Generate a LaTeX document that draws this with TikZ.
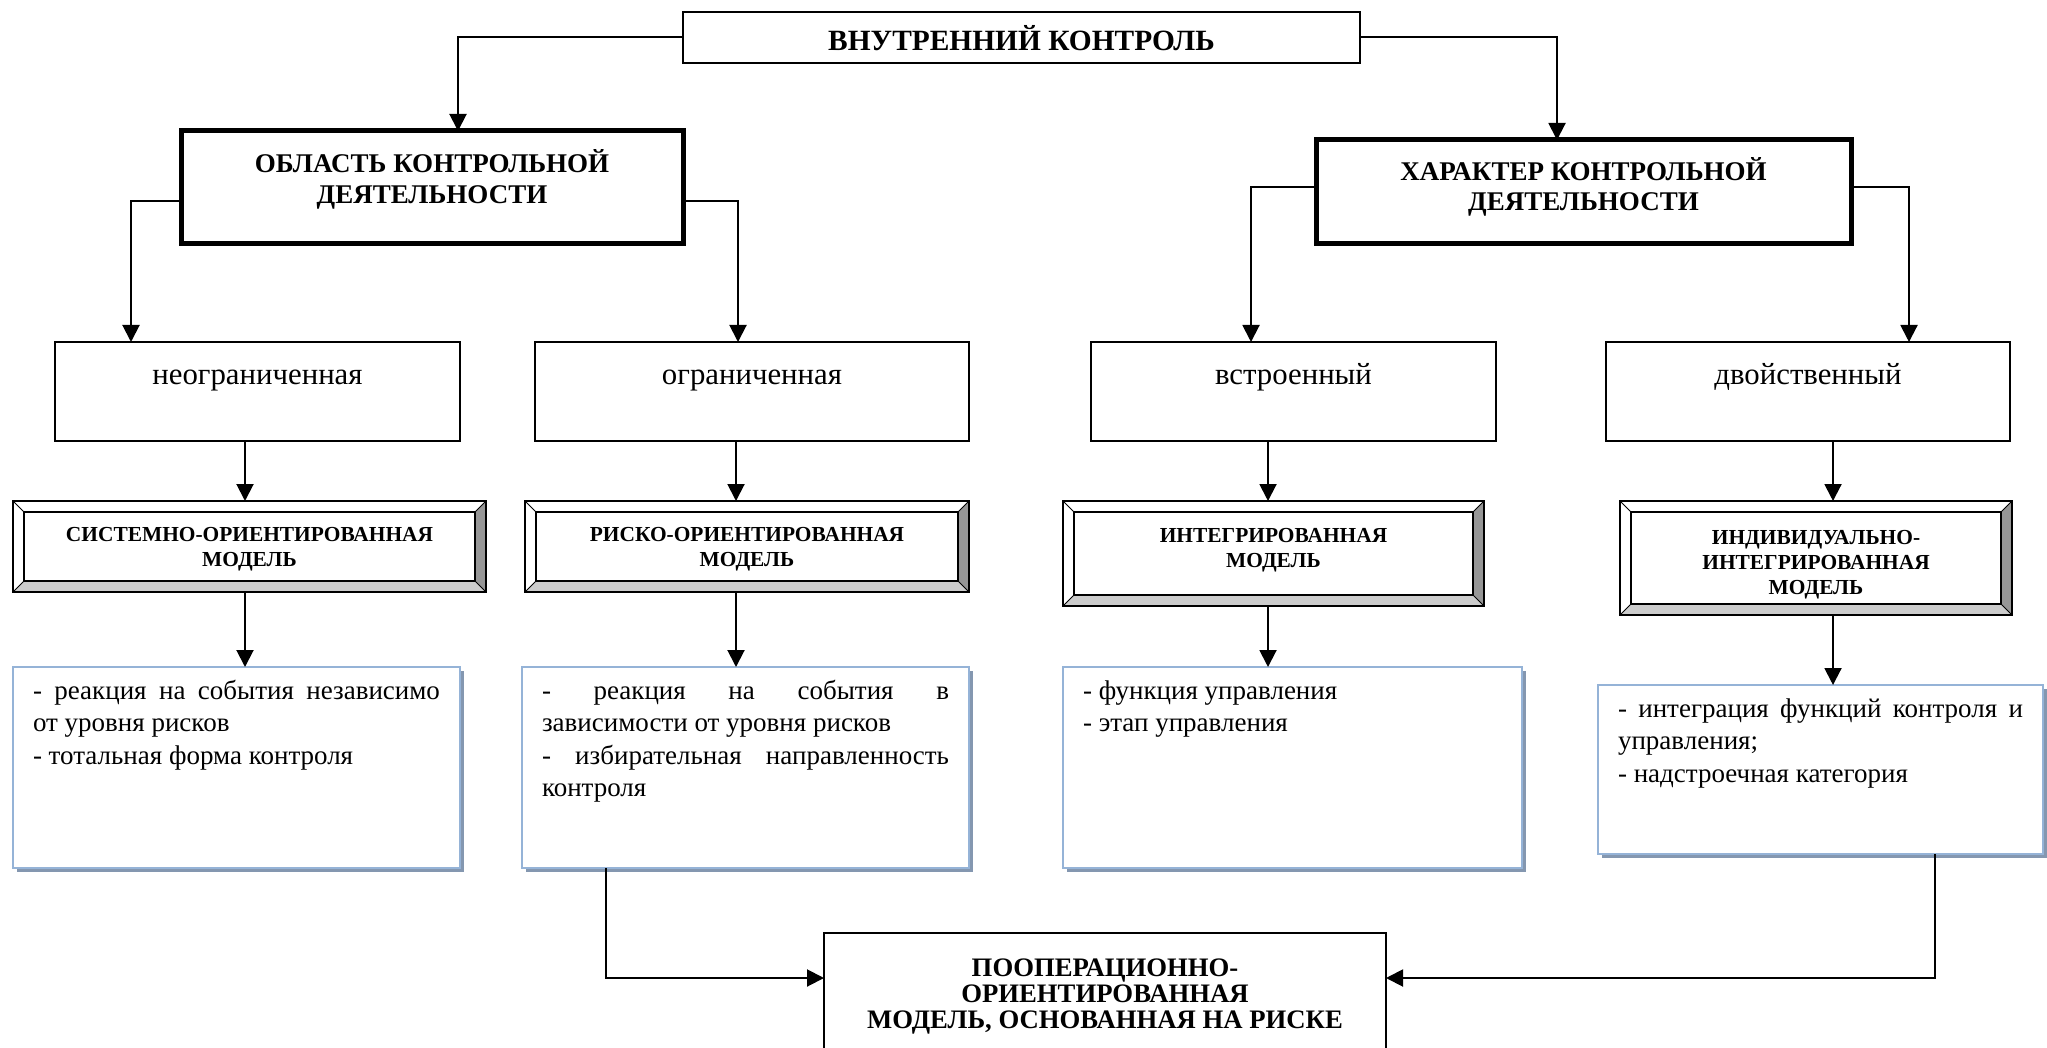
\documentclass[tikz,border=0pt]{standalone}
\usepackage{fontspec}
\setmainfont{Liberation Serif}
\usetikzlibrary{arrows.meta,calc,shadows}
\hyphenpenalty=10000
\exhyphenpenalty=10000
\tolerance=10000
\hbadness=10000

\definecolor{frameblue}{RGB}{149,179,215}
\definecolor{shadeblue}{RGB}{132,151,176}
\definecolor{beveldark}{RGB}{150,150,150}
\definecolor{bevellight}{RGB}{204,204,204}

% fixed-size text block: width, height, top gap, alignment, contents
\newcommand\inbox[5]{\parbox[c][#2pt][t]{#1pt}{\vspace*{#3pt}#4\strut#5}}

% bevelled frame around a named node
\def\bw{11}
\newcommand\bevelframe[1]{%
  \fill[beveldark] (#1.north east) -- (#1.south east) -- ($(#1.south east)+(-\bw,-\bw)$) -- ($(#1.north east)+(-\bw,\bw)$) -- cycle;
  \fill[bevellight] (#1.south west) -- (#1.south east) -- ($(#1.south east)+(-\bw,-\bw)$) -- ($(#1.south west)+(\bw,-\bw)$) -- cycle;
  \draw[line width=1.8pt] (#1.north west) rectangle (#1.south east);
  \draw[line width=1.8pt] ($(#1.north west)+(\bw,\bw)$) rectangle ($(#1.south east)+(-\bw,-\bw)$);
  \draw[line width=1pt] (#1.north west) -- ++(\bw,\bw) (#1.north east) -- ++(-\bw,\bw)
                        (#1.south west) -- ++(\bw,-\bw) (#1.south east) -- ++(-\bw,-\bw);
}

\begin{document}
\begin{tikzpicture}[x=1pt,y=-1pt,
  base/.style={inner sep=0pt, outer sep=0pt},
  thinbox/.style={base, draw, line width=1.6pt},
  thickbox/.style={base, draw, line width=5pt},
  bevelbox/.style={base, font=\bfseries\fontsize{21.4}{25}\selectfont},
  textbox/.style={base, inner xsep=20pt, draw=frameblue, line width=2pt, fill=white,
     general shadow={fill=shadeblue, shadow xshift=4pt, shadow yshift=-4pt},
     font=\fontsize{27}{32.6}\selectfont},
  rowfont/.style={font=\fontsize{30.8}{36}\selectfont},
  headfont/.style={font=\bfseries\fontsize{27}{30.5}\selectfont},
  conn/.style={line width=2pt, -{Triangle[length=17pt,width=17pt]}}]

\useasboundingbox (0,0) rectangle (2047,1048);
\clip (0,0) rectangle (2047,1048);
\fill[white] (0,0) rectangle (2047,1048);

% top level
\node[thinbox, font=\bfseries\fontsize{29.4}{32}\selectfont] (root) at (1021.5,37.5)
  {\inbox{677}{51}{13.9}{\centering}{ВНУТРЕННИЙ КОНТРОЛЬ}};

\node[thickbox, headfont] (area) at (432,187.5)
  {\inbox{502}{113}{19}{\centering}{ОБЛАСТЬ КОНТРОЛЬНОЙ\\ДЕЯТЕЛЬНОСТИ}};
\node[thickbox, headfont] (kind) at (1583.5,192)
  {\inbox{535}{104}{17.3}{\centering}{ХАРАКТЕР КОНТРОЛЬНОЙ\\ДЕЯТЕЛЬНОСТИ}};

% second row
\node[thinbox, rowfont] (unlim) at (257.5,391.5) {\inbox{405}{99}{16.8}{\centering}{неограниченная}};
\node[thinbox, rowfont] (lim)   at (752,391.5)   {\inbox{434}{99}{16.8}{\centering}{ограниченная}};
\node[thinbox, rowfont] (built) at (1293.5,391.5){\inbox{405}{99}{16.8}{\centering}{встроенный}};
\node[thinbox, rowfont] (dual)  at (1808,391.5)  {\inbox{404}{99}{16.8}{\centering}{двойственный}};

% models
\node[bevelbox] (sysm)  at (249.5,546.5) {\inbox{473}{91}{22.5}{\centering}{СИСТЕМНО-ОРИЕНТИРОВАННАЯ\\МОДЕЛЬ}};
\node[bevelbox] (riskm) at (747,546.5)   {\inbox{444}{91}{22.5}{\centering}{РИСКО-ОРИЕНТИРОВАННАЯ\\МОДЕЛЬ}};
\node[bevelbox] (intm)  at (1273.5,553.5){\inbox{421}{105}{23.5}{\centering}{ИНТЕГРИРОВАННАЯ\\МОДЕЛЬ}};
\node[bevelbox] (indm)  at (1816,558)    {\inbox{392}{114}{25.5}{\centering}{ИНДИВИДУАЛЬНО-\\ИНТЕГРИРОВАННАЯ\\МОДЕЛЬ}};
\bevelframe{sysm}
\bevelframe{riskm}
\bevelframe{intm}
\bevelframe{indm}

% descriptions
\node[textbox] (d1) at (236.5,767.5) {\inbox{407}{201}{9.2}{}{- реакция на события независимо\linebreak от уровня рисков\\- тотальная форма контроля}};
\node[textbox] (d2) at (745.5,767.5) {\inbox{407}{201}{9.2}{}{- реакция на события в\linebreak зависимости от уровня рисков\\- избирательная направленность\linebreak контроля}};
\node[textbox] (d3) at (1292.5,767.5){\inbox{419}{201}{9.2}{}{- функция управления\\- этап управления}};
\node[textbox] (d4) at (1820.5,769.5){\inbox{405}{169}{9.2}{}{- интеграция функций контроля и\linebreak управления;\\- надстроечная категория}};

% resulting model
\node[thinbox, font=\bfseries\fontsize{26.7}{26.2}\selectfont] (opm) at (1105,996.5)
  {\inbox{562}{127}{24.8}{\centering}{ПООПЕРАЦИОННО-\\ОРИЕНТИРОВАННАЯ\\МОДЕЛЬ, ОСНОВАННАЯ НА РИСКЕ}};

% connectors
\draw[conn] (root.west) -| ([xshift=26]area.north);
\draw[conn] (root.east) -| ([xshift=-26.5]kind.north);
\draw[conn] ([yshift=-13.5]area.west) -| ([xshift=-126.5]unlim.north);
\draw[conn] ([yshift=-13.5]area.east) -| ([xshift=-14]lim.north);
\draw[conn] ([yshift=5]kind.west) -| ([xshift=-42.5]built.north);
\draw[conn] ([yshift=5]kind.east) -| ([xshift=101]dual.north);

\coordinate (a1) at ([xshift=-4.5]sysm.north);
\coordinate (a2) at ([xshift=-11]riskm.north);
\coordinate (a3) at ([xshift=-5.5]intm.north);
\coordinate (a4) at ([xshift=17]indm.north);
\draw[conn] (unlim.south -| a1) -- (a1);
\draw[conn] (lim.south -| a2) -- (a2);
\draw[conn] (built.south -| a3) -- (a3);
\draw[conn] (dual.south -| a4) -- (a4);

\coordinate (b1) at ([xshift=8.5]d1.north);
\coordinate (b2) at ([xshift=-9.5]d2.north);
\coordinate (b3) at ([xshift=-24.5]d3.north);
\coordinate (b4) at ([xshift=12.5]d4.north);
\draw[conn] (sysm.south -| b1) -- (b1);
\draw[conn] (riskm.south -| b2) -- (b2);
\draw[conn] (intm.south -| b3) -- (b3);
\draw[conn] (indm.south -| b4) -- (b4);

\coordinate (e1) at ([yshift=18.5]opm.west);
\coordinate (e2) at ([yshift=18.5]opm.east);
\draw[conn] ([xshift=-139.5]d2.south) |- (e1);
\draw[conn] ([xshift=114.5]d4.south) |- (e2);
\end{tikzpicture}
\end{document}
